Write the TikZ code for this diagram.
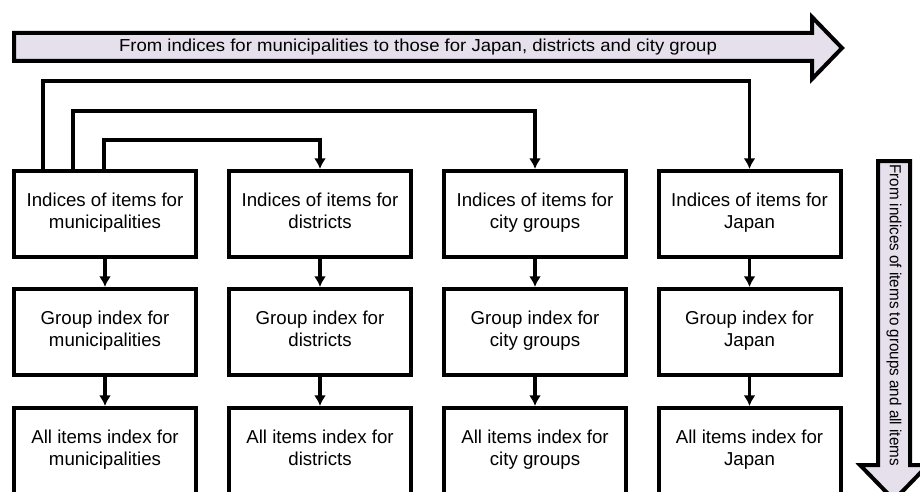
\documentclass[tikz,border=0pt]{standalone}
\usepackage{fontspec}
\setmainfont{Liberation Sans}
\usetikzlibrary{calc,arrows.meta}
\definecolor{lavender}{RGB}{229,224,236}
\begin{document}
\begin{tikzpicture}[x=0.75pt,y=-0.75pt,
  box/.style={draw, line width=3pt, minimum width=136.5pt, minimum height=64.5pt,
    inner sep=0pt, align=center, font=\fontsize{14}{16}\selectfont, line join=miter,
    execute at end node=\strut},
  link/.style={->, >={Latex[length=8pt,width=9pt]}, line width=2.4pt},
  bigarrow/.style={draw, fill=lavender, line width=3pt, line join=miter}]
\path[use as bounding box, clip] (0,0) rectangle (920,492);

\node[box] (im) at (105,214) {Indices of items for\\municipalities};
\node[box] (id) at (320,214) {Indices of items for\\districts};
\node[box] (ic) at (535,214) {Indices of items for\\city groups};
\node[box] (ij) at (749.5,214) {Indices of items for\\Japan};
\node[box] (gm) at (105,332) {Group index for\\municipalities};
\node[box] (gd) at (320,332) {Group index for\\districts};
\node[box] (gc) at (535,332) {Group index for\\city groups};
\node[box] (gj) at (749.5,332) {Group index for\\Japan};
\node[box] (am) at (105,451) {All items index for\\municipalities};
\node[box] (ad) at (320,451) {All items index for\\districts};
\node[box] (ac) at (535,451) {All items index for\\city groups};
\node[box] (aj) at (749.5,451) {All items index for\\Japan};

% big arrows
\draw[bigarrow] (14,33) -- (812,33) -- (812,17) -- (842,48) -- (812,79) -- (812,61) -- (14,61) -- cycle;
\node[font=\fontsize{13}{15}\selectfont] (top) at (418,47) {\scalebox{1.07}[1]{From indices for municipalities to those for Japan, districts and city group}};
\draw[bigarrow] (878,161) -- (910,161) -- (910,465) -- (928,465) -- (894,500) -- (860,465) -- (878,465) -- cycle;
\node[rotate=-90, font=\fontsize{12}{14}\selectfont] (side) at (894,315) {\scalebox{0.95}[1]{From indices of items to groups and all items}};

\draw[link] ($(im.north)+(-62,0)$) -- ++(0,-88) -| (ij.north);
\draw[link] ($(im.north)+(-32,0)$) -- ++(0,-58) -| (ic.north);
\draw[link] ($(im.north)+(-1,0)$) -- ++(0,-29) -| (id.north);
\draw[link] (im)--(gm);
\draw[link] (id)--(gd);
\draw[link] (ic)--(gc);
\draw[link] (ij)--(gj);
\draw[link] (gm)--(am);
\draw[link] (gd)--(ad);
\draw[link] (gc)--(ac);
\draw[link] (gj)--(aj);
\end{tikzpicture}
\end{document}
